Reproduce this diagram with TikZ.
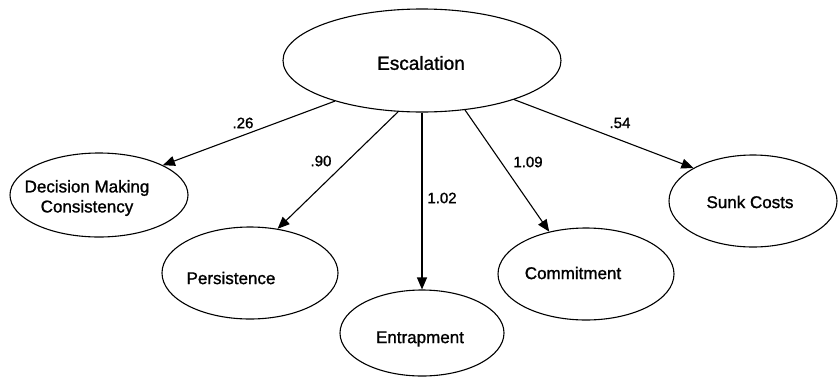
\documentclass[tikz,border=0pt]{standalone}
\usepackage{fontspec}
\setmainfont{Liberation Sans}
\newfontface\heavyface{Liberation Sans}[FakeBold=1.2]
\usetikzlibrary{arrows.meta,shapes.geometric}
\tikzset{
  >={Triangle[length=12pt,width=10pt]},
  lat/.style={draw,ellipse,line width=1.1pt,inner sep=0pt},      % latent factor ellipse
  nm/.style={font=\heavyface\fontsize{17}{20}\selectfont,align=center,inner sep=0pt}, % factor name
  wt/.style={font=\heavyface\fontsize{15}{17}\selectfont,inner sep=0pt},   % loading value
  load/.style={->,line width=1.1pt},                              % loading arrow
}
\begin{document}
\begin{tikzpicture}[x=1pt,y=-1pt]
  \useasboundingbox (0,0) rectangle (838,378);
  % ---- factor ellipses ----
  \node[lat,minimum width=278pt,minimum height=103pt] (esc)  at (422,60.5) {};
  \node[lat,minimum width=178pt,minimum height=84pt]  (dmc)  at (99,195)   {};
  \node[lat,minimum width=176pt,minimum height=92pt]  (per)  at (250,273)  {};
  \node[lat,minimum width=164pt,minimum height=86pt]  (ent)  at (422,333)  {};
  \node[lat,minimum width=176pt,minimum height=92pt]  (com)  at (586,274)  {};
  \node[lat,minimum width=168pt,minimum height=92pt]  (sunk) at (753,201)  {};

  % ---- names ----
  \node[nm,font=\heavyface\fontsize{19}{22}\selectfont] (escT) at (421,63) {Escalation};
  \node[nm] (dmcT)  at (87,198)  {Decision Making\\Consistency};
  \node[nm] (perT)  at (231,278) {Persistence};
  \node[nm] (entT)  at (420,339) {Entrapment};
  \node[nm] (comT)  at (573,273) {Commitment};
  \node[nm] (sunkT) at (750,202) {Sunk Costs};

  % ---- loadings ----
  \draw[load] (esc.205) -- (dmc.25);
  \draw[load] (esc.245) -- (per.58);
  \draw[load] (esc.south) -- (ent.north);
  \draw[load] (esc.311) -- (com.131);
  \draw[load] (esc.337) -- (sunk.151);

  \node[wt] (w1) at (243,123) {.26};
  \node[wt] (w2) at (321,161) {.90};
  \node[wt] (w3) at (442,198) {1.02};
  \node[wt] (w4) at (528,162) {1.09};
  \node[wt] (w5) at (620,123) {.54};
\end{tikzpicture}
\end{document}
